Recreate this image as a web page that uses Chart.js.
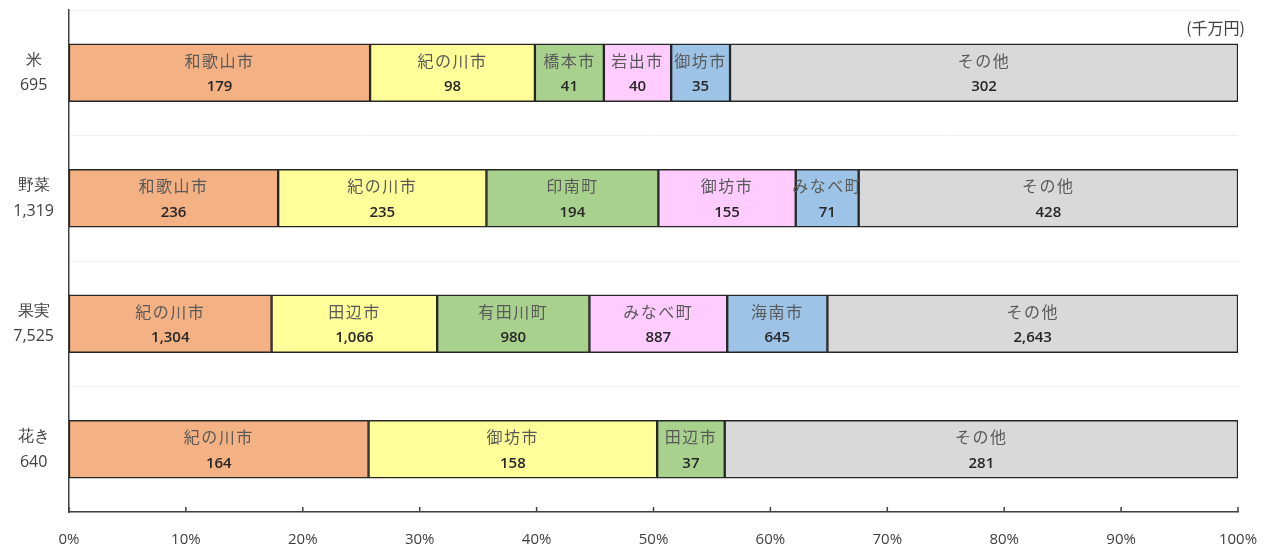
<!DOCTYPE html>
<html lang="ja">
<head>
    <meta charset="UTF-8">
    <title>品目別 市町村別産出額</title>
    <script src="https://cdn.jsdelivr.net/npm/chart.js"></script>
    <style>
        body { margin: 0; background: #fff; }
        #wrap { width: 1267px; height: 549px; }
    </style>
</head>
<body>
    <div id="wrap"><canvas id="shareChart"></canvas></div>

    <script>
        // categories and totals (千万円)
        const categories = ['米', '野菜', '果実', '花き'];
        const totals = ['695', '1,319', '7,525', '640'];

        // ranked municipalities per category
        const rank1Names = ['和歌山市', '和歌山市', '紀の川市', '紀の川市'];
        const rank1Values = [179, 236, 1304, 164];
        const rank2Names = ['紀の川市', '紀の川市', '田辺市', '御坊市'];
        const rank2Values = [98, 235, 1066, 158];
        const rank3Names = ['橋本市', '印南町', '有田川町', '田辺市'];
        const rank3Values = [41, 194, 980, 37];
        const rank4Names = ['岩出市', '御坊市', 'みなべ町', null];
        const rank4Values = [40, 155, 887, null];
        const rank5Names = ['御坊市', 'みなべ町', '海南市', null];
        const rank5Values = [35, 71, 645, null];
        const otherNames = ['その他', 'その他', 'その他', 'その他'];
        const otherValues = [302, 428, 2643, 281];

        const xTicks = [0, 10, 20, 30, 40, 50, 60, 70, 80, 90, 100];

        const groups = [
            { names: rank1Names, values: rank1Values, color: '#F4B183' },
            { names: rank2Names, values: rank2Values, color: '#FFFF99' },
            { names: rank3Names, values: rank3Values, color: '#A9D18E' },
            { names: rank4Names, values: rank4Values, color: '#FFCCFF' },
            { names: rank5Names, values: rank5Values, color: '#9DC3E6' },
            { names: otherNames, values: otherValues, color: '#D9D9D9' }
        ];

        // sum per category, used to turn values into shares
        const sums = categories.map((_, i) =>
            groups.reduce((acc, g) => acc + (g.values[i] || 0), 0));

        const datasets = groups.map(g => ({
            data: g.values.map((v, i) => v == null ? null : v / sums[i] * 100),
            names: g.names,
            raw: g.values,
            backgroundColor: g.color,
            borderColor: '#262626',
            borderWidth: 1.5,
            borderSkipped: false,
            barThickness: 58
        }));

        // draws name + value inside each segment, the unit note and inside tick marks
        const segmentLabels = {
            id: 'segmentLabels',
            afterDatasetsDraw(chart) {
                const ctx = chart.ctx;
                ctx.save();
                ctx.textAlign = 'center';
                ctx.textBaseline = 'middle';
                chart.data.datasets.forEach((ds, di) => {
                    const meta = chart.getDatasetMeta(di);
                    meta.data.forEach((bar, i) => {
                        if (ds.raw[i] == null) return;
                        const cx = (bar.x + bar.base) / 2;
                        ctx.fillStyle = '#595959';
                        ctx.font = '16px "Noto Sans CJK JP"';
                        ctx.letterSpacing = '1.5px';
                        ctx.fillText(ds.names[i], cx, bar.y - 12);
                        ctx.letterSpacing = '0px';
                        ctx.fillStyle = '#262626';
                        ctx.font = '600 15px "Open Sans"';
                        ctx.fillText(ds.raw[i].toLocaleString('en-US'), cx, bar.y + 14);
                    });
                });

                const area = chart.chartArea;
                const xs = chart.scales.x;
                ctx.strokeStyle = '#404040';
                ctx.lineWidth = 1.5;
                xTicks.forEach(t => {
                    const px = xs.getPixelForValue(t);
                    ctx.beginPath();
                    ctx.moveTo(px, area.bottom);
                    ctx.lineTo(px, area.bottom - 5);
                    ctx.stroke();
                });

                ctx.fillStyle = '#404040';
                ctx.font = '16px "Noto Sans CJK JP"';
                ctx.textAlign = 'right';
                ctx.fillText('(千万円)', area.right + 7, area.top + 18);
                ctx.restore();
            }
        };

        const ctx = document.getElementById('shareChart').getContext('2d');

        new Chart(ctx, {
            type: 'bar',
            data: {
                labels: categories.map((c, i) => [c, totals[i]]),
                datasets: datasets
            },
            options: {
                indexAxis: 'y',
                responsive: true,
                maintainAspectRatio: false,
                animation: false,
                layout: { padding: { top: 10, right: 29, left: 0, bottom: 0 } },
                plugins: {
                    legend: { display: false },
                    tooltip: { enabled: false }
                },
                scales: {
                    x: {
                        stacked: true,
                        min: 0,
                        max: 100,
                        afterFit(scale) {
                            scale.height = 37;
                            scale.paddingLeft = 0;
                            scale.paddingRight = 0;
                        },
                        afterBuildTicks(scale) {
                            scale.ticks = xTicks.map(v => ({ value: v }));
                        },
                        grid: { display: false },
                        border: { display: true, color: '#404040', width: 1.5 },
                        ticks: {
                            padding: 11,
                            maxRotation: 0,
                            color: '#404040',
                            font: { family: 'Open Sans', size: 15 },
                            callback: v => v + '%'
                        }
                    },
                    y: {
                        stacked: true,
                        afterFit(scale) {
                            scale.width = 69;
                            scale.paddingTop = 0;
                            scale.paddingBottom = 0;
                        },
                        grid: { color: '#f0f0f0', drawTicks: false },
                        border: { display: true, color: '#404040', width: 1.5 },
                        ticks: {
                            padding: 15,
                            crossAlign: 'center',
                            color: '#404040',
                            font: { family: 'Open Sans', size: 16, lineHeight: 1.6 }
                        }
                    }
                }
            },
            plugins: [segmentLabels]
        });
    </script>
</body>
</html>
